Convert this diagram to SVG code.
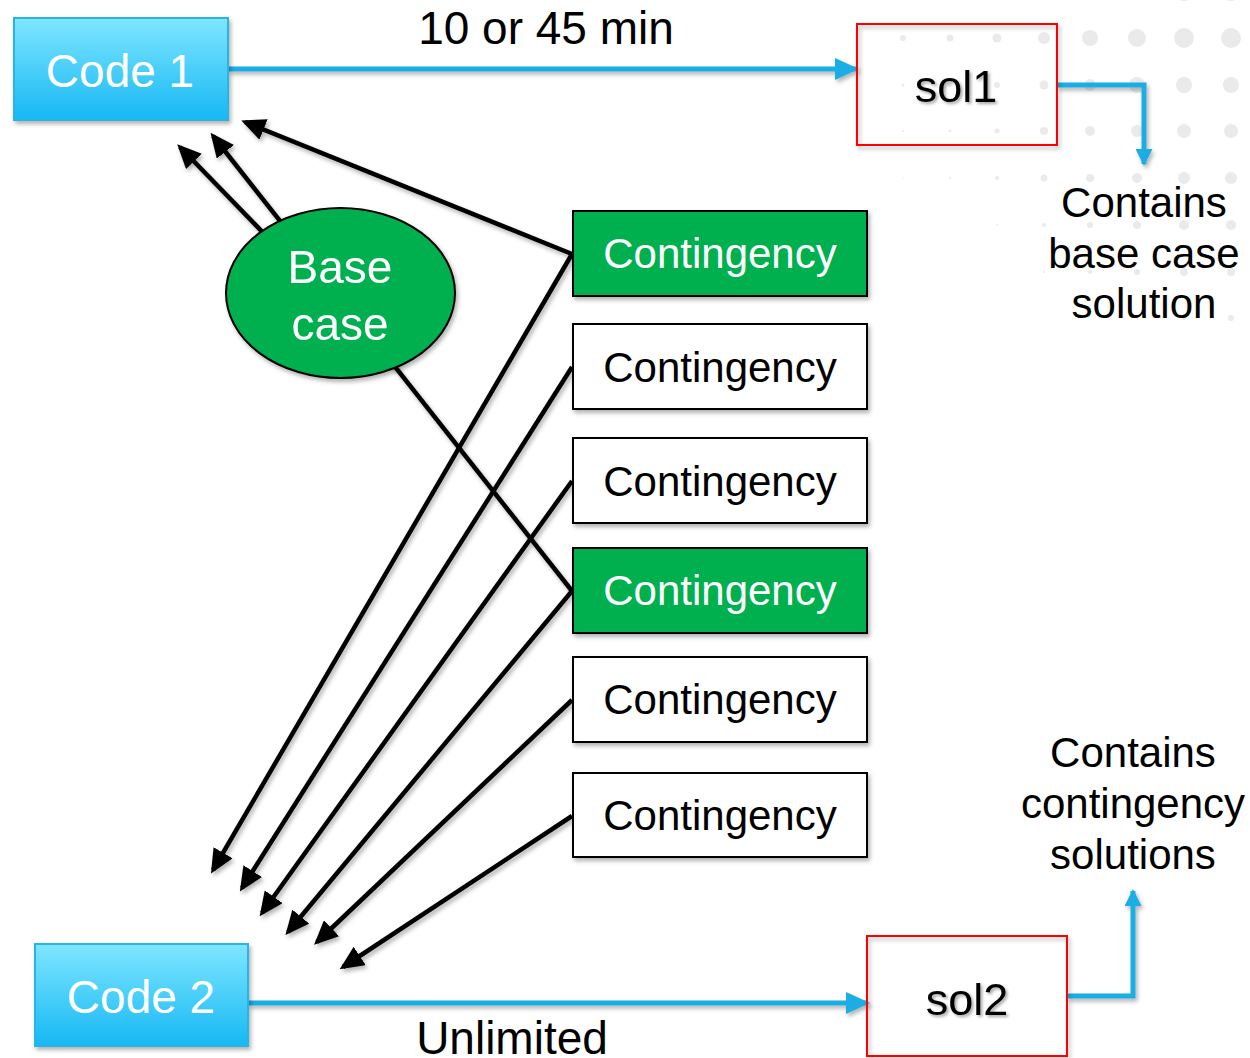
<svg xmlns="http://www.w3.org/2000/svg" width="1250" height="1058" viewBox="0 0 1250 1058">
  <defs>
    <linearGradient id="codeFill" x1="0" y1="0" x2="0" y2="1">
      <stop offset="0" stop-color="#7fe6ff"/>
      <stop offset="1" stop-color="#16b8f4"/>
    </linearGradient>
    <filter id="shadow" x="-10%" y="-10%" width="125%" height="130%">
      <feDropShadow dx="2" dy="3" stdDeviation="2" flood-color="#000" flood-opacity="0.3"/>
    </filter>
    <filter id="textShadow" x="-10%" y="-10%" width="130%" height="140%">
      <feDropShadow dx="2" dy="2" stdDeviation="1.5" flood-color="#000" flood-opacity="0.35"/>
    </filter>
    <marker id="blackHead" markerUnits="userSpaceOnUse" markerWidth="24" markerHeight="22" refX="20" refY="11" orient="auto">
      <path d="M0,0 L24,11 L0,22 z" fill="#000"/>
    </marker>
    <marker id="blueHead" markerUnits="userSpaceOnUse" markerWidth="24" markerHeight="22" refX="22" refY="11" orient="auto">
      <path d="M0,0 L24,11 L0,22 z" fill="#1cade4"/>
    </marker>
    <marker id="blueHeadSmall" markerUnits="userSpaceOnUse" markerWidth="17" markerHeight="17" refX="15" refY="8.5" orient="auto">
      <path d="M0,0 L17,8.5 L0,17 z" fill="#1cade4"/>
    </marker>
    <style>
      text { font-family: "Liberation Sans", Arial, sans-serif; text-anchor: middle; }
      .code rect { fill: url(#codeFill); stroke: #2ab4e6; stroke-width: 2; }
      .code text { fill: #fff; font-size: 46px; }
      .cont rect { stroke: #000; stroke-width: 2; }
      .cont text { font-size: 42px; }
      .green rect { fill: #00b050; }
      .green text { fill: #fff; }
      .white rect { fill: #fff; }
      .white text { fill: #000; }
      .sol rect { fill: none; stroke: #ff0000; stroke-width: 2; }
      .sol text { fill: #000; font-size: 45px; }
      .note { fill: #000; font-size: 42px; }
      .label { fill: #000; font-size: 46px; }
      .dep { fill: none; stroke: #000; stroke-width: 4.5; marker-end: url(#blackHead); }
      .flow { fill: none; stroke: #1cade4; stroke-width: 5; }
      .dot { fill: #eaeaea; }
    </style>
  </defs>

  <rect width="1250" height="1058" fill="#fff"/>

  <!-- decorative dot grid, fading toward the lower left -->
  <g id="dot-grid" class="dot">
    <circle cx="1090" cy="-9" r="8"/><circle cx="1137" cy="-9" r="9"/><circle cx="1184" cy="-9" r="10"/><circle cx="1231" cy="-9" r="10"/>
    <circle cx="903" cy="38" r="3"/><circle cx="950" cy="38" r="3.5"/><circle cx="997" cy="38" r="4.5"/><circle cx="1044" cy="38" r="6"/><circle cx="1090" cy="38" r="8"/><circle cx="1137" cy="38" r="9"/><circle cx="1184" cy="38" r="10"/><circle cx="1231" cy="38" r="10"/>
    <circle cx="903" cy="85" r="1.5"/><circle cx="950" cy="85" r="2"/><circle cx="997" cy="85" r="3"/><circle cx="1044" cy="85" r="4.5"/><circle cx="1090" cy="85" r="6"/><circle cx="1137" cy="85" r="8"/><circle cx="1184" cy="85" r="8"/><circle cx="1231" cy="85" r="8"/>
    <circle cx="903" cy="131" r="1"/><circle cx="950" cy="131" r="1.5"/><circle cx="997" cy="131" r="2.5"/><circle cx="1044" cy="131" r="4"/><circle cx="1090" cy="131" r="5"/><circle cx="1137" cy="131" r="6"/><circle cx="1184" cy="131" r="7"/><circle cx="1231" cy="131" r="7"/>
    <circle cx="903" cy="178" r="0.7"/><circle cx="950" cy="178" r="1"/><circle cx="997" cy="178" r="2"/><circle cx="1044" cy="178" r="3.5"/><circle cx="1090" cy="178" r="4"/><circle cx="1137" cy="178" r="5"/><circle cx="1184" cy="178" r="6"/><circle cx="1231" cy="178" r="6"/>
    <circle cx="997" cy="225" r="1"/><circle cx="1044" cy="225" r="2"/><circle cx="1090" cy="225" r="3"/><circle cx="1137" cy="225" r="4"/><circle cx="1184" cy="225" r="5"/><circle cx="1231" cy="225" r="5"/>
    <circle cx="1044" cy="272" r="1"/><circle cx="1090" cy="272" r="2"/><circle cx="1137" cy="272" r="3"/><circle cx="1184" cy="272" r="4"/><circle cx="1231" cy="272" r="4"/>
    <circle cx="1137" cy="318" r="1.5"/><circle cx="1184" cy="318" r="2.5"/><circle cx="1231" cy="318" r="3"/>
  </g>

  <!-- connectors -->
  <g id="connectors">
    <g filter="url(#shadow)">
      <!-- into Code 1 -->
      <line class="dep" x1="340" y1="312" x2="180" y2="147"/>
      <line class="dep" x1="572" y1="591" x2="213" y2="136"/>
      <line class="dep" x1="572" y1="254" x2="245" y2="122"/>
      <!-- into Code 2 -->
      <line class="dep" x1="572" y1="254" x2="213" y2="870"/>
      <line class="dep" x1="572" y1="367" x2="242" y2="888"/>
      <line class="dep" x1="572" y1="481" x2="262" y2="913"/>
      <line class="dep" x1="572" y1="591" x2="288" y2="932"/>
      <line class="dep" x1="572" y1="700" x2="317" y2="942"/>
      <line class="dep" x1="572" y1="816" x2="343" y2="967"/>
    </g>
    <g filter="url(#shadow)">
      <line class="flow" x1="228" y1="69" x2="857" y2="69" marker-end="url(#blueHead)"/>
      <polyline class="flow" points="1057,85 1144,85 1144,164" marker-end="url(#blueHeadSmall)"/>
      <line class="flow" x1="248" y1="1003" x2="868" y2="1003" marker-end="url(#blueHead)"/>
      <polyline class="flow" points="1067,996 1133,996 1133,891" marker-end="url(#blueHeadSmall)"/>
    </g>
  </g>

  <!-- base case -->
  <g id="base-case" filter="url(#shadow)">
    <ellipse cx="340.5" cy="293" rx="114.5" ry="85" fill="#00b050" stroke="#000" stroke-width="2"/>
    <text x="340" y="283" fill="#fff" font-size="46">Base</text>
    <text x="340" y="340" fill="#fff" font-size="46">case</text>
  </g>

  <!-- codes -->
  <g id="code1" class="code">
    <rect x="14" y="18" width="214" height="102" filter="url(#shadow)"/>
    <text x="120" y="87">Code 1</text>
  </g>
  <g id="code2" class="code">
    <rect x="35" y="944" width="213" height="102" filter="url(#shadow)"/>
    <text x="141" y="1013">Code 2</text>
  </g>

  <!-- contingencies -->
  <g id="contingency1" class="cont green">
    <rect x="573" y="211" width="294" height="85" filter="url(#shadow)"/>
    <text x="720" y="268">Contingency</text>
  </g>
  <g id="contingency2" class="cont white">
    <rect x="573" y="324" width="294" height="85" filter="url(#shadow)"/>
    <text x="720" y="382">Contingency</text>
  </g>
  <g id="contingency3" class="cont white">
    <rect x="573" y="438" width="294" height="85" filter="url(#shadow)"/>
    <text x="720" y="496">Contingency</text>
  </g>
  <g id="contingency4" class="cont green">
    <rect x="573" y="548" width="294" height="85" filter="url(#shadow)"/>
    <text x="720" y="605">Contingency</text>
  </g>
  <g id="contingency5" class="cont white">
    <rect x="573" y="657" width="294" height="85" filter="url(#shadow)"/>
    <text x="720" y="714">Contingency</text>
  </g>
  <g id="contingency6" class="cont white">
    <rect x="573" y="773" width="294" height="84" filter="url(#shadow)"/>
    <text x="720" y="830">Contingency</text>
  </g>

  <!-- solution files -->
  <g id="sol1" class="sol">
    <rect x="857" y="24" width="200" height="121" filter="url(#shadow)"/>
    <text x="956" y="102" filter="url(#textShadow)">sol1</text>
  </g>
  <g id="sol2" class="sol">
    <rect x="867" y="936" width="200" height="120" filter="url(#shadow)"/>
    <text x="967" y="1015" filter="url(#textShadow)">sol2</text>
  </g>

  <!-- labels -->
  <g id="labels">
    <text class="label" x="546" y="44">10 or 45 min</text>
    <text class="label" x="512" y="1054">Unlimited</text>
    <text class="note" x="1144" y="217">Contains</text>
    <text class="note" x="1144" y="268">base case</text>
    <text class="note" x="1144" y="318">solution</text>
    <text class="note" x="1133" y="767">Contains</text>
    <text class="note" x="1133" y="818">contingency</text>
    <text class="note" x="1133" y="869">solutions</text>
  </g>
</svg>
